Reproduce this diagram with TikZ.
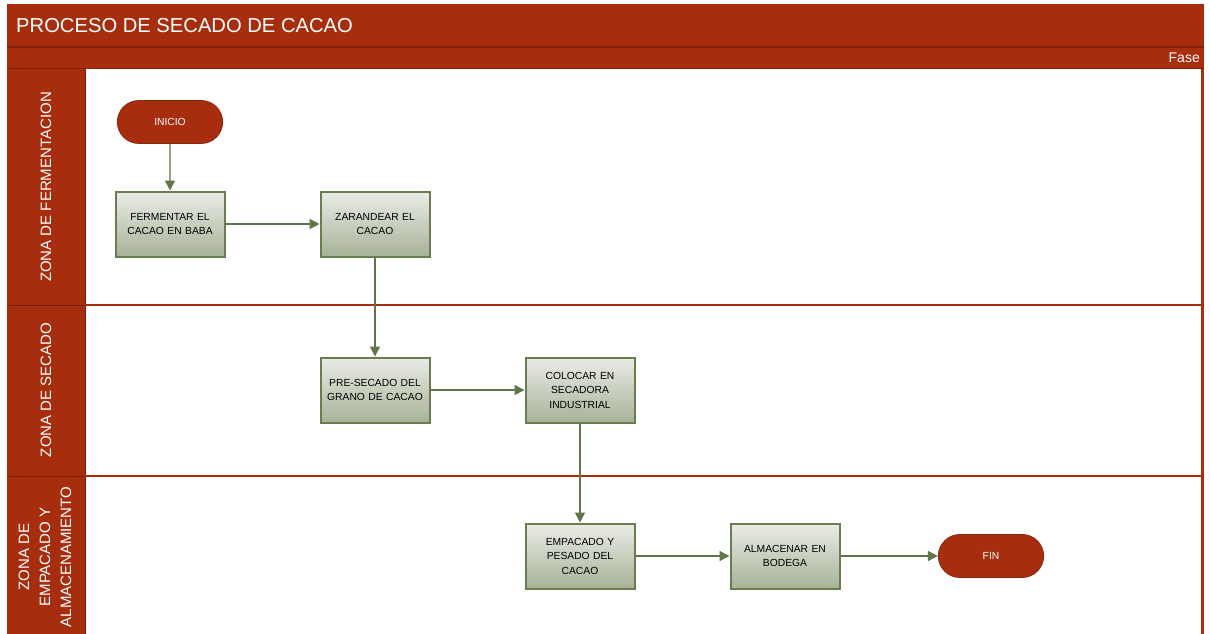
\documentclass[tikz,border=0pt]{standalone}
\usepackage{fontspec}
\setmainfont{Liberation Sans}
\usetikzlibrary{arrows.meta,shapes.misc}
\definecolor{laneRed}{RGB}{166,46,15}
\definecolor{laneDark}{RGB}{128,32,10}
\definecolor{boxEdge}{RGB}{104,126,78}
\definecolor{boxTop}{RGB}{234,236,230}
\definecolor{boxBot}{RGB}{166,178,152}
\definecolor{flowLine}{RGB}{94,119,72}
\tikzset{
  task/.style={rectangle, draw=boxEdge, line width=2pt,
    top color=boxTop, bottom color=boxBot,
    minimum width=109pt, minimum height=65pt, inner sep=2pt,
    align=center, text width=100pt, font=\fontsize{10.3}{14.5}\selectfont},
  terminal/.style={rounded rectangle, fill=laneRed, draw=laneRed!85!black,
    line width=0.8pt, minimum width=112pt, minimum height=43pt,
    text=white, font=\fontsize{10.3}{12}\selectfont},
  flow/.style={draw=flowLine, line width=1.4pt,
    -{Triangle[length=10pt,width=10pt]}},
  lanelabel/.style={rotate=90, text=white, align=center,
    font=\fontsize{15}{21}\selectfont}
}
\begin{document}
\begin{tikzpicture}[x=1pt,y=-1pt]
\useasboundingbox (0,0) rectangle (1210,634);
\fill[white] (0,0) rectangle (1210,634);

% pool frame: title bar, phase bar and lane header column
\fill[laneRed] (7,4) rectangle (1204,69);
\fill[laneRed] (7,69) rectangle (85,640);
\fill[laneRed] (1201,69) rectangle (1204,640);
\draw[laneDark, line width=1.5pt] (7,47) -- (1204,47);
\draw[laneDark, line width=1pt] (7,69) -- (1204,69);
\draw[laneDark, line width=1pt] (85,69) -- (85,640);

% lane separators
\draw[laneRed, line width=2pt] (7,305) -- (1204,305);
\draw[laneRed, line width=2pt] (7,476) -- (1204,476);
\draw[laneDark, line width=0.8pt] (7,305) -- (85,305);
\draw[laneDark, line width=0.8pt] (7,476) -- (85,476);

% titles
\node[anchor=west, text=white, font=\fontsize{20.2}{24}\selectfont, inner sep=0pt] (title) at (16,26) {PROCESO DE SECADO DE CACAO};
\node[anchor=east, text=white, font=\fontsize{14}{16}\selectfont, inner sep=0pt] (fase) at (1200,58) {Fase};

% lane headers
\node[lanelabel] (lane1) at (46,187) {ZONA DE FERMENTACION};
\node[lanelabel] (lane2) at (46,390) {ZONA DE SECADO};
\node[lanelabel] (lane3) at (45,557) {ZONA DE\\EMPACADO Y\\ALMACENAMIENTO};

% flow nodes
\node[terminal] (inicio) at (170,122) {INICIO};
\node[task] (fermentar) at (170,224) {FERMENTAR EL\\CACAO EN BABA};
\node[task] (zarandear) at (375,224) {ZARANDEAR EL\\CACAO};
\node[task] (presecado) at (375,390) {PRE-SECADO DEL\\GRANO DE CACAO};
\node[task] (colocar) at (580,390) {COLOCAR EN\\SECADORA\\INDUSTRIAL};
\node[task] (empacado) at (580,556) {EMPACADO Y\\PESADO DEL\\CACAO};
\node[task] (almacenar) at (785,556) {ALMACENAR EN\\BODEGA};
\node[terminal] (fin) at (991,556) {FIN};

% connectors
\draw[flow] (inicio) -- (fermentar);
\draw[flow] (fermentar) -- (zarandear);
\draw[flow] (zarandear) -- (presecado);
\draw[flow] (presecado) -- (colocar);
\draw[flow] (colocar) -- (empacado);
\draw[flow] (empacado) -- (almacenar);
\draw[flow] (almacenar) -- (fin);
\end{tikzpicture}
\end{document}
